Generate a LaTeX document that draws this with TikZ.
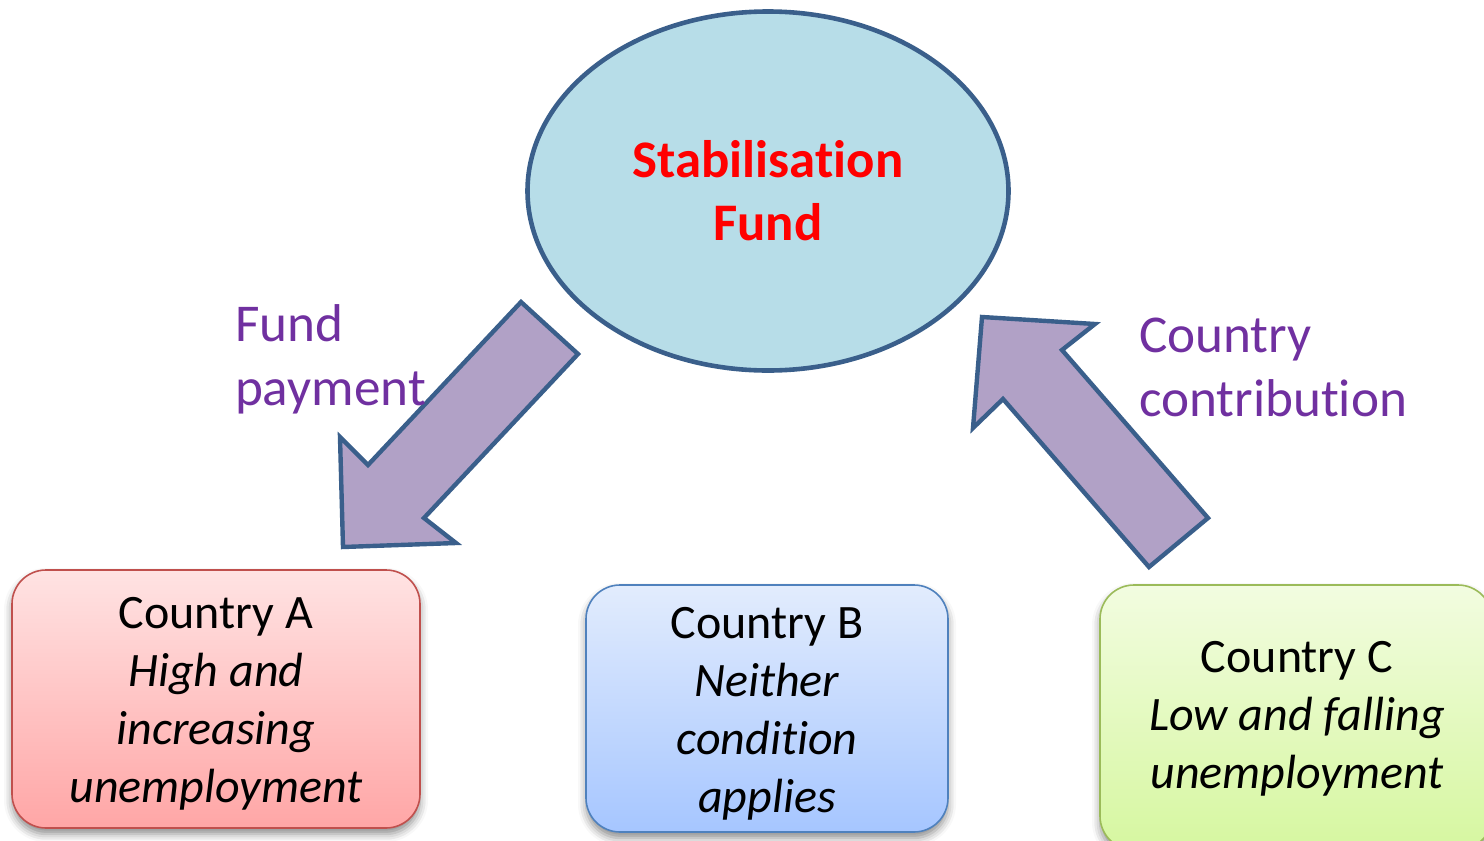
\documentclass[tikz,border=0pt]{standalone}
\usepackage{fontspec}
\setmainfont{Carlito}[Ligatures={NoCommon}]
\usetikzlibrary{shapes.geometric,shadows.blur}
\definecolor{edgeblue}{HTML}{3A5F8B}
\definecolor{fundfill}{HTML}{B7DDE8}
\definecolor{arrowfill}{HTML}{B1A1C6}
\definecolor{labelpurple}{HTML}{7030A0}
\definecolor{redtop}{HTML}{FFE3E3}
\definecolor{redbot}{HTML}{FFA6A6}
\definecolor{rededge}{HTML}{C0504D}
\definecolor{bluetop}{HTML}{E2ECFD}
\definecolor{bluebot}{HTML}{A6C6FF}
\definecolor{blueedge}{HTML}{4F81BD}
\definecolor{greentop}{HTML}{F2FCE0}
\definecolor{greenbot}{HTML}{D6F7A0}
\definecolor{greenedge}{HTML}{9BBB59}
\tikzset{
  countrybox/.style={rounded corners=17pt, line width=0.8pt,
    blur shadow={shadow xshift=0pt, shadow yshift=-3pt, shadow blur radius=4pt, shadow opacity=45}},
  boxtext/.style={align=center, font=\fontsize{24}{29}\selectfont},
  blockarrow/.style={fill=arrowfill, draw=edgeblue, line width=2.2pt, line join=miter},
  flowlabel/.style={text=labelpurple, align=left, font=\fontsize{26.6}{32}\selectfont}
}
\begin{document}
\begin{tikzpicture}[x=0.5pt,y=-0.5pt]
\useasboundingbox (0,0) rectangle (1484,841);
\clip (0,0) rectangle (1484,841);

\node[ellipse, draw=edgeblue, fill=fundfill, line width=2.3pt, inner sep=0pt,
      minimum width=240.5pt, minimum height=179.5pt, align=center,
      text=red, font=\fontsize{26.4}{31.5}\selectfont\bfseries] (fund) at (768,191)
      {Stabilisation\\Fund};

% block arrows
\draw[blockarrow] (521,302) -- (578,354) -- (424,518) -- (456,543) -- (343,547)
   -- (340,437) -- (368,465) -- cycle;
\draw[blockarrow] (982,317) -- (1095,324) -- (1062,350) -- (1208,518) -- (1149,567)
   -- (1003,399) -- (973,428) -- cycle;

\node[flowlabel, anchor=west] (paylabel) at (228,359) {Fund\\payment};
\node[flowlabel, anchor=west] (contlabel) at (1132,367) {Country\\contribution};

\node[countrybox, draw=rededge, top color=redtop, bottom color=redbot,
      minimum width=204pt, minimum height=129pt] (ca) at (216,699) {};
\node[boxtext] (catext) at (216,704)
      {Country A\\\textit{High and}\\\textit{increasing}\\\textit{unemployment}};
\node[countrybox, draw=blueedge, top color=bluetop, bottom color=bluebot,
      minimum width=181pt, minimum height=123.5pt] (cb) at (767,708.5) {};
\node[boxtext] (cbtext) at (767,714)
      {Country B\\\textit{Neither}\\\textit{condition}\\\textit{applies}};
\node[countrybox, draw=greenedge, top color=greentop, bottom color=greenbot,
      minimum width=196pt, minimum height=132.5pt] (cc) at (1296,717.5) {};
\node[boxtext] (cctext) at (1297,719)
      {Country C\\\textit{Low and falling}\\\textit{unemployment}};
\end{tikzpicture}
\end{document}
